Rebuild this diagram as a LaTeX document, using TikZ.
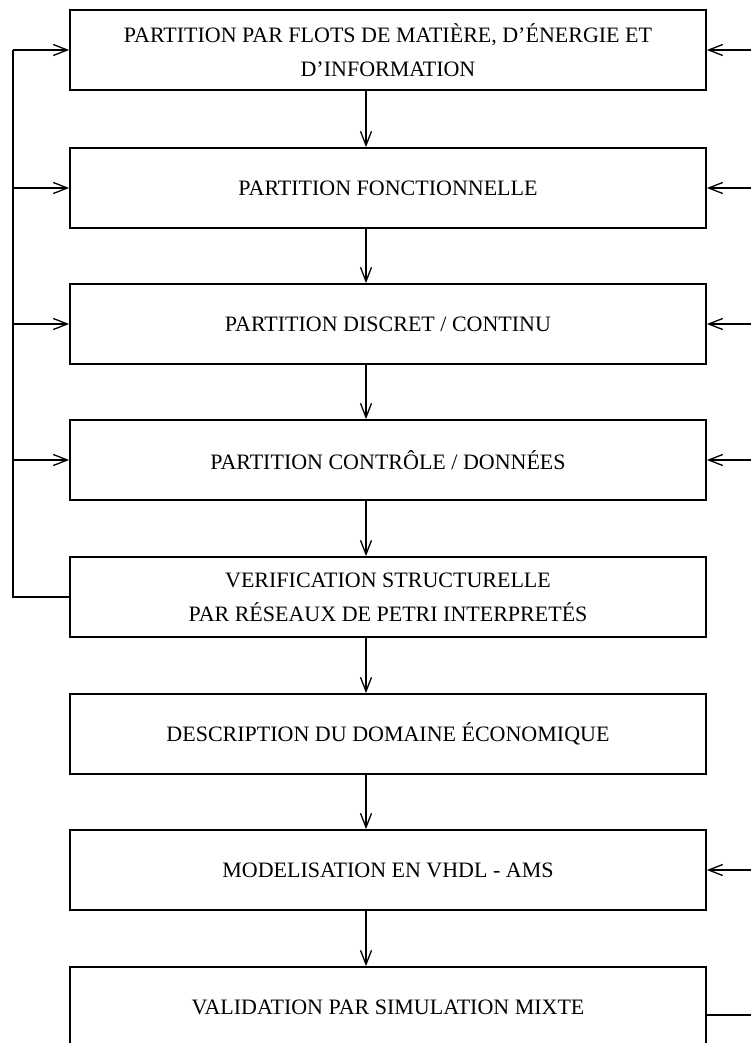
\documentclass[tikz,border=0pt]{standalone}
\usepackage{fontspec}
\setmainfont{Liberation Serif}
\usetikzlibrary{arrows.meta}
\begin{document}
\begin{tikzpicture}[x=1pt,y=-1pt,
  stepbox/.style={draw,line width=1.8pt,minimum width=636pt,minimum height=80pt,
    inner sep=0pt,align=center,font=\fontsize{22}{34}\selectfont},
  link/.style={line width=1.3pt},
  arr/.style={link,-{Straight Barb[length=14pt,width=11pt,line width=1.3pt]}}]
  \useasboundingbox (0,0) rectangle (751,1043);
  \clip (0,0) rectangle (751,1043);

  % process steps, top to bottom
  \node[stepbox] (b1) at (388,50)  {PARTITION PAR FLOTS DE MATIÈRE, D’ÉNERGIE ET\\D’INFORMATION};
  \node[stepbox] (b2) at (388,188) {PARTITION FONCTIONNELLE};
  \node[stepbox] (b3) at (388,324) {PARTITION DISCRET / CONTINU};
  \node[stepbox] (b4) at (388,460) {PARTITION CONTRÔLE / DONNÉES};
  \node[stepbox] (b5) at (388,597) {VERIFICATION STRUCTURELLE\\PAR RÉSEAUX DE PETRI INTERPRETÉS};
  \node[stepbox] (b6) at (388,734) {DESCRIPTION DU DOMAINE ÉCONOMIQUE};
  \node[stepbox] (b7) at (388,870) {MODELISATION EN VHDL - AMS};
  \node[stepbox] (b8) at (388,1007) {VALIDATION PAR SIMULATION MIXTE};

  % helper abscissas: main flow, left loop, right margin
  \coordinate (cx) at (366,0);
  \coordinate (lx) at (13,0);
  \coordinate (rx) at (751,0);
  \coordinate (b8out) at ([yshift=-8pt]b8.east);

  % main downward flow
  \foreach \a/\b in {b1/b2,b2/b3,b3/b4,b4/b5,b5/b6,b6/b7,b7/b8}
    \draw[arr] (\a.south -| cx) -- (\b.north -| cx);

  % feedback loop on the left
  \draw[link] (b5.west) -- (b5.west -| lx) -- (lx |- b1.west);
  \foreach \b in {b1,b2,b3,b4}
    \draw[arr] (lx |- \b.west) -- (\b.west);

  % inputs from the right margin
  \foreach \b in {b1,b2,b3,b4,b7}
    \draw[arr] (rx |- \b.east) -- (\b.east);
  \draw[link] (b8out) -- (b8out -| rx);
\end{tikzpicture}
\end{document}
